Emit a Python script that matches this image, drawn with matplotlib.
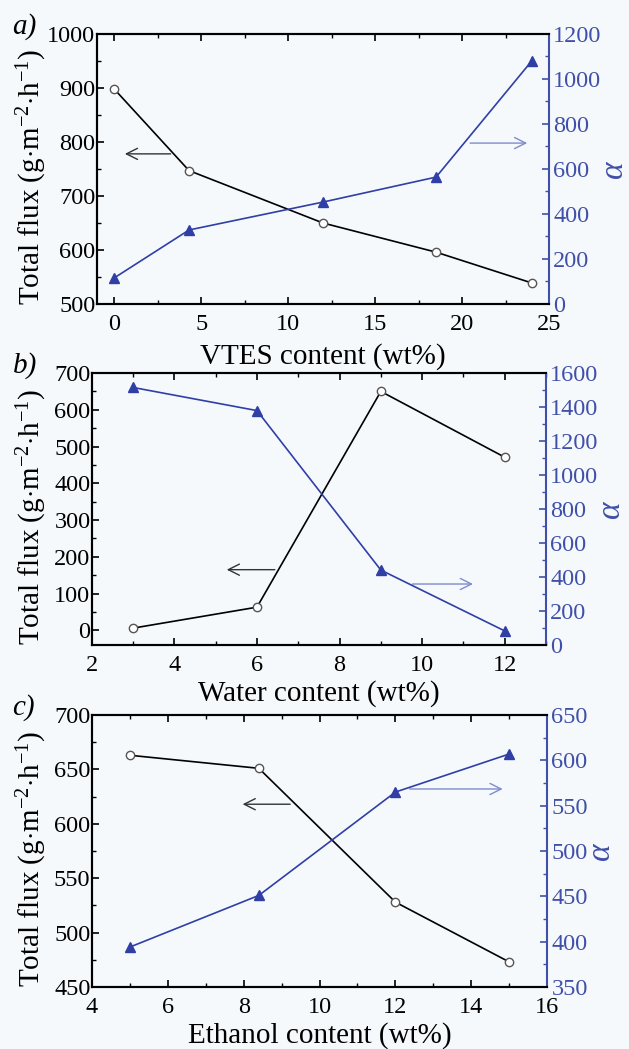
import matplotlib
matplotlib.use("Agg")
import matplotlib.pyplot as plt
from matplotlib.ticker import MultipleLocator

plt.rcParams['font.family'] = ['Liberation Serif', 'DejaVu Serif']
plt.rcParams['mathtext.fontset'] = 'custom'
plt.rcParams['mathtext.rm'] = 'Liberation Serif'
plt.rcParams['mathtext.it'] = 'Liberation Serif:italic'

# ---- data ----
vtes_x = [0, 4.3, 12, 18.5, 24]
vtes_flux = [898, 747, 650, 596, 539]
vtes_alpha = [116, 329, 453, 564, 1080]

water_x = [3, 6, 9, 12]
water_flux = [6, 63, 650, 471]
water_alpha = [1515, 1379, 441, 83]

eth_x = [5, 8.4, 12, 15]
eth_flux = [663, 651, 528, 473]
eth_alpha = [394, 451, 565, 607]

xlabels = ["VTES content (wt%)", "Water content (wt%)", "Ethanol content (wt%)"]
panel_labels = ["a)", "b)", "c)"]
ylabel = "Total flux (g$\\cdot$m$^{-2}$$\\cdot$h$^{-1}$)"

BG = '#f6f9fc'
BLUE = '#2f3fa6'
BLUE_AX = '#4050a8'
BLUE_ARROW = '#7f8ccc'

TICK_FS = 17.5
LABEL_FS = 21

fig = plt.figure(figsize=(6.29, 10.49), dpi=100, facecolor=BG)

panels = [
    dict(pos=[0.154, 0.7102, 0.719, 0.2574], x=vtes_x, f=vtes_flux, a=vtes_alpha,
         xlim=(-1, 25), xmaj=5, xmin=2.5, ylim=(500, 1000), ymaj=100, ymin=50,
         y2lim=(0, 1200), y2maj=200, y2min=100, lpad=6, ylx=-0.105,
         larr=((3.4, 778), (0.45, 778)), rarr=((20.3, 798), (23.9, 798))),
    dict(pos=[0.146, 0.3851, 0.722, 0.2593], x=water_x, f=water_flux, a=water_alpha,
         xlim=(2, 13), xmaj=2, xmin=1, ylim=(-40, 700), ymaj=100, ymin=50,
         y2lim=(0, 1600), y2maj=200, y2min=100, lpad=3, ylx=-0.095,
         larr=((6.5, 165), (5.2, 165)), rarr=((9.7, 126), (11.3, 126))),
    dict(pos=[0.146, 0.0591, 0.724, 0.2593], x=eth_x, f=eth_flux, a=eth_alpha,
         xlim=(4, 16), xmaj=2, xmin=1, ylim=(450, 700), ymaj=50, ymin=25,
         y2lim=(350, 650), y2maj=50, y2min=25, lpad=3, ylx=-0.095,
         larr=((9.3, 618), (7.9, 618)), rarr=((12.3, 632), (14.9, 632))),
]

for i, p in enumerate(panels):
    ax = fig.add_axes(p['pos'])
    ax.set_facecolor(BG)
    ax2 = ax.twinx()
    ax.plot(p['x'], p['f'], color='black', lw=1.2, marker='o', ms=6,
            mfc='white', mec='#555555', mew=1.0, zorder=3)
    ax2.plot(p['x'], p['a'], color=BLUE, lw=1.2, marker='^', ms=7,
             mfc=BLUE, mec=BLUE, zorder=3)
    ax.set_xlim(*p['xlim'])
    ax.set_ylim(*p['ylim'])
    ax2.set_ylim(*p['y2lim'])
    ax.xaxis.set_major_locator(MultipleLocator(p['xmaj']))
    ax.xaxis.set_minor_locator(MultipleLocator(p['xmin']))
    ax.yaxis.set_major_locator(MultipleLocator(p['ymaj']))
    ax.yaxis.set_minor_locator(MultipleLocator(p['ymin']))
    ax2.yaxis.set_major_locator(MultipleLocator(p['y2maj']))
    ax2.yaxis.set_minor_locator(MultipleLocator(p['y2min']))
    if i == 1:
        ax.set_ylim(-40, 700)
        ax.set_yticks(range(0, 701, 100))
    ax.tick_params(axis='x', which='both', direction='in', top=True, labelsize=TICK_FS, pad=7)
    ax.tick_params(axis='y', which='both', direction='in', right=False, labelsize=TICK_FS, pad=1)
    ax.tick_params(which='major', length=5, width=1.2)
    ax.tick_params(which='minor', length=3, width=1.0)
    ax2.tick_params(axis='y', which='both', direction='in', colors=BLUE_AX,
                    labelcolor=BLUE_AX, labelsize=TICK_FS, pad=3)
    ax2.tick_params(which='major', length=5, width=1.2)
    ax2.tick_params(which='minor', length=3, width=1.0)
    for s in ['left', 'top', 'bottom']:
        ax.spines[s].set_linewidth(1.5)
        ax2.spines[s].set_linewidth(1.5)
    ax2.spines['right'].set_color(BLUE_AX)
    ax2.spines['right'].set_linewidth(1.5)
    ax.spines['right'].set_visible(False)
    ax.set_xlabel(xlabels[i], fontsize=LABEL_FS, labelpad=p['lpad'])
    ax.set_ylabel(ylabel, fontsize=LABEL_FS, labelpad=0)
    ax.yaxis.set_label_coords(p['ylx'], 0.47)
    ax2.set_ylabel('α', fontsize=24, style='italic', color=BLUE_AX, labelpad=-2)
    (lx0, ly0), (lx1, ly1) = p['larr']
    ax.annotate('', xy=(lx1, ly1), xytext=(lx0, ly0),
                arrowprops=dict(arrowstyle='->', color='#333333', lw=1.0,
                                mutation_scale=20), zorder=2)
    (rx0, ry0), (rx1, ry1) = p['rarr']
    ax.annotate('', xy=(rx1, ry1), xytext=(rx0, ry0),
                arrowprops=dict(arrowstyle='->', color=BLUE_ARROW, lw=1.0,
                                mutation_scale=20), zorder=2)
    bb = p['pos']
    fig.text(0.02, bb[1] + bb[3] + 0.007, panel_labels[i], fontsize=21,
             style='italic', ha='left', va='center')

fig.savefig('out.png', dpi=100, facecolor=BG)
